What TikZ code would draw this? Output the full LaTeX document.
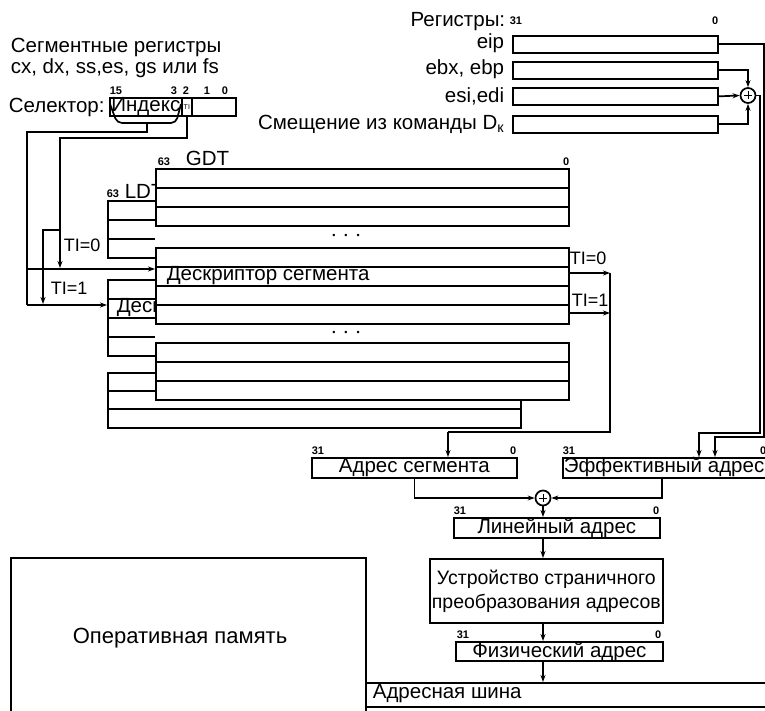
\documentclass[tikz,border=0pt]{standalone}
\usepackage{fontspec}
\setmainfont{Liberation Sans}
\usetikzlibrary{arrows.meta,calc}
\begin{document}
\begin{tikzpicture}[x=1pt,y=-1pt,line width=1.7pt,
  >={Stealth[length=7pt,width=5pt]},
  txt/.style={inner sep=0pt,font=\fontsize{20.5}{24}\selectfont},
  small/.style={inner sep=0pt,font=\fontsize{18}{20}\selectfont},
  bitno/.style={inner sep=0pt,font=\fontsize{11}{12}\selectfont\bfseries},
  cell/.style={draw,fill=white,anchor=north west,inner sep=0pt,minimum width=413pt,minimum height=19pt},
  reg/.style={draw,fill=white,anchor=north west,inner sep=0pt,minimum width=205pt,minimum height=17pt},
  abox/.style={draw,fill=white,anchor=north west,inner sep=0pt,minimum height=20pt,font=\fontsize{20.5}{24}\selectfont},
  adder/.style={draw,circle,fill=white,inner sep=0pt,minimum size=15pt},
  dotrow/.style={inner sep=0pt,font=\fontsize{9}{9}\selectfont}
]
\useasboundingbox (0,0) rectangle (765,711);

% ---------- segment registers / selector ----------
\node[txt,anchor=west] (segreg1) at (10,47) {Сегментные регистры};
\node[txt,anchor=west] (segreg2) at (10,68) {cx, dx, ss,es, gs или fs};
\node[txt,anchor=west] (sellab) at (8,107) {Селектор:};
\node[abox,minimum width=72pt,minimum height=18pt] (idx) at (109,97) {Индекс};
\node[abox,minimum width=10pt,minimum height=18pt,font=\fontsize{7}{7}\selectfont] (ti) at (181,97) {TI};
\node[abox,minimum width=44pt,minimum height=18pt] (rpl) at (191,97) {};
\node[bitno,anchor=south] (b15) at (116,95) {15};
\node[bitno,anchor=south] (b3) at (174,95) {3};
\node[bitno,anchor=south] (b2) at (186,95) {2};
\node[bitno,anchor=south] (b1) at (207,95) {1};
\node[bitno,anchor=south] (b0) at (225,95) {0};
\draw[rounded corners=5pt] (110,104) -- (117,123) -- (176,123) -- (181,104);
\coordinate (brk) at (147,123);

% ---------- LDT (behind) ----------
\foreach \y/\n in {200/l11,219/l12,238/l13,279/l21,298/l22,317/l23,336/l24,372/l31,390/l32,408/l33}
  \node[cell] (\n) at (107,\y) {};
\node[txt,anchor=west] (ldesc) at (116,308) {Дескриптор сегмента};
\node[bitno,anchor=south west] (l63) at (106,198) {63};
\node[txt,anchor=south west] (ldtlab) at (124,199) {LDT};

% ---------- GDT (front) ----------
\fill[white] (155,168) rectangle (568,399);
\foreach \y/\n in {168/g11,187/g12,206/g13,247/g21,266/g22,285/g23,304/g24,342/g31,361/g32,380/g33}
  \node[cell] (\n) at (155,\y) {};
\node[txt,anchor=west] (gdesc) at (166,276) {Дескриптор сегмента};
\node[bitno,anchor=south west] (g63) at (157,166) {63};
\node[txt,anchor=south west] (gdtlab) at (185,167) {GDT};
\node[bitno,anchor=south east] (g0) at (570,166) {0};
\node[dotrow] (gdots1) at (346,236) {•\hspace{9pt}•\hspace{9pt}•};
\node[dotrow] (gdots2) at (346,333) {•\hspace{9pt}•\hspace{9pt}•};

% ---------- selector wiring ----------
\coordinate (w1) at (147,132);
\coordinate (w2) at (27,132);
\coordinate (ix) at (27,269);
\coordinate (iy) at (27,305);
\draw (brk) -- (w1) -- (w2) -- (iy);
\draw[->] (ix) -- (ix -| g22.west);
\draw[->] (iy) -- (iy -| l22.west);
\coordinate (t1) at (60,138);
\coordinate (t2) at (60,230);
\coordinate (t3) at (43,230);
\draw[->] (ti.south) |- (t1) -- (60,268);
\draw[->] (t2) -- (t3) -- (43,304);
\node[small,anchor=west] (ti0a) at (63,245) {TI=0};
\node[small,anchor=west] (ti1a) at (50,288) {TI=1};

% ---------- table outputs ----------
\coordinate (vx0) at (610,273);
\coordinate (vx1) at (610,313);
\draw[->] (vx0 -| g22.east) -- (vx0);
\draw[->] (vx1 -| g24.east) -- (vx1);
\node[small,anchor=west] (ti0b) at (569,258) {TI=0};
\node[small,anchor=west] (ti1b) at (571,300) {TI=1};

% ---------- registers ----------
\node[txt,anchor=east] (reglab) at (506,22) {Регистры:};
\node[bitno,anchor=west] (r31) at (509,21) {31};
\node[bitno,anchor=east] (r0) at (719,21) {0};
\node[reg] (eip) at (512,35) {};
\node[reg] (ebx) at (512,61) {};
\node[reg] (esi) at (512,87) {};
\node[reg] (disp) at (512,115) {};
\node[txt,anchor=east] (eiplab) at (505,43) {eip};
\node[txt,anchor=east] (ebxlab) at (505,69) {ebx, ebp};
\node[txt,anchor=east] (esilab) at (505,96) {esi,edi};
\node[txt,anchor=east] (displab) at (505,124) {Смещение из команды D\textsubscript{к}};
\node[adder] (sum1) at (748,95.5) {};
\draw[line width=1pt] ($(sum1)+(-4,0)$) -- ($(sum1)+(4,0)$) ($(sum1)+(0,-4)$) -- ($(sum1)+(0,4)$);
\draw[->] (ebx.east) -| (sum1.north);
\draw[->] (esi.east) -- (sum1.west);
\draw[->] (disp.east) -| (sum1.south);

% ---------- address boxes ----------
\node[abox,minimum width=205pt] (seg) at (311,457) {Адрес сегмента};
\node[bitno,anchor=south west] (s31) at (311,455) {31};
\node[bitno,anchor=south east] (s0) at (517,455) {0};
\node[abox,minimum width=212pt] (eff) at (562,457) {};
\node[txt,anchor=west] (efftxt) at (563,467) {Эффективный адрес};
\node[bitno,anchor=south west] (e31) at (562,455) {31};
\node[bitno,anchor=south east] (e0) at (767,455) {0};

\coordinate (v2) at (610,432);
\coordinate (v3) at (448,432);
\draw (vx0) -- (v2) -- (v3);
\draw[->] (v3) -- (v3 |- seg.north);
\coordinate (a0) at (760,433);
\coordinate (a1) at (699,433);
\coordinate (b0) at (764,437);
\coordinate (a2) at (715,437);
\draw[->] (sum1.east) -| (a0) -- (a1) -- (a1 |- eff.north);
\draw[->] (eip.east) -| (b0) -- (a2) -- (a2 |- eff.north);

\node[adder] (sum2) at (543,498) {};
\draw[line width=1pt] ($(sum2)+(-4,0)$) -- ($(sum2)+(4,0)$) ($(sum2)+(0,-4)$) -- ($(sum2)+(0,4)$);
\coordinate (ef) at (662,477);
\draw[->] (seg.south) |- (sum2.west);
\draw[->] (ef) |- (sum2.east);

\node[abox,minimum width=206pt] (lin) at (453,517) {Линейный адрес};
\node[bitno,anchor=south west] (n31) at (453,515) {31};
\node[bitno,anchor=south east] (n0) at (660,515) {0};
\draw[->] (sum2.south) -- (sum2 |- lin.north);

\node[draw,anchor=north west,minimum width=233pt,minimum height=64pt,inner sep=0pt,align=center,
  font=\fontsize{19.5}{24}\selectfont] (pag) at (429,558) {Устройство страничного\\преобразования адресов};
\draw[->] (sum2 |- lin.south) -- (sum2 |- pag.north);

\node[abox,minimum width=207pt,minimum height=19pt] (phys) at (455,641) {Физический адрес};
\node[bitno,anchor=south west] (p31) at (456,639) {31};
\node[bitno,anchor=south east] (p0) at (662,639) {0};
\draw[->] (sum2 |- pag.south) -- (sum2 |- phys.north);

% ---------- memory and bus ----------
\node[draw,anchor=north west,minimum width=355pt,minimum height=165pt,inner sep=0pt] (mem) at (10,557) {};
\node[txt,font=\fontsize{22}{24}\selectfont] (memtxt) at (180,638) {Оперативная память};
\node[draw,anchor=north west,minimum width=420pt,minimum height=24pt,inner sep=0pt] (bus) at (365,682) {};
\node[txt,anchor=west] (bustxt) at (372,694) {Адресная шина};
\draw[->] (sum2 |- phys.south) -- (sum2 |- bus.north);
\end{tikzpicture}
\end{document}
